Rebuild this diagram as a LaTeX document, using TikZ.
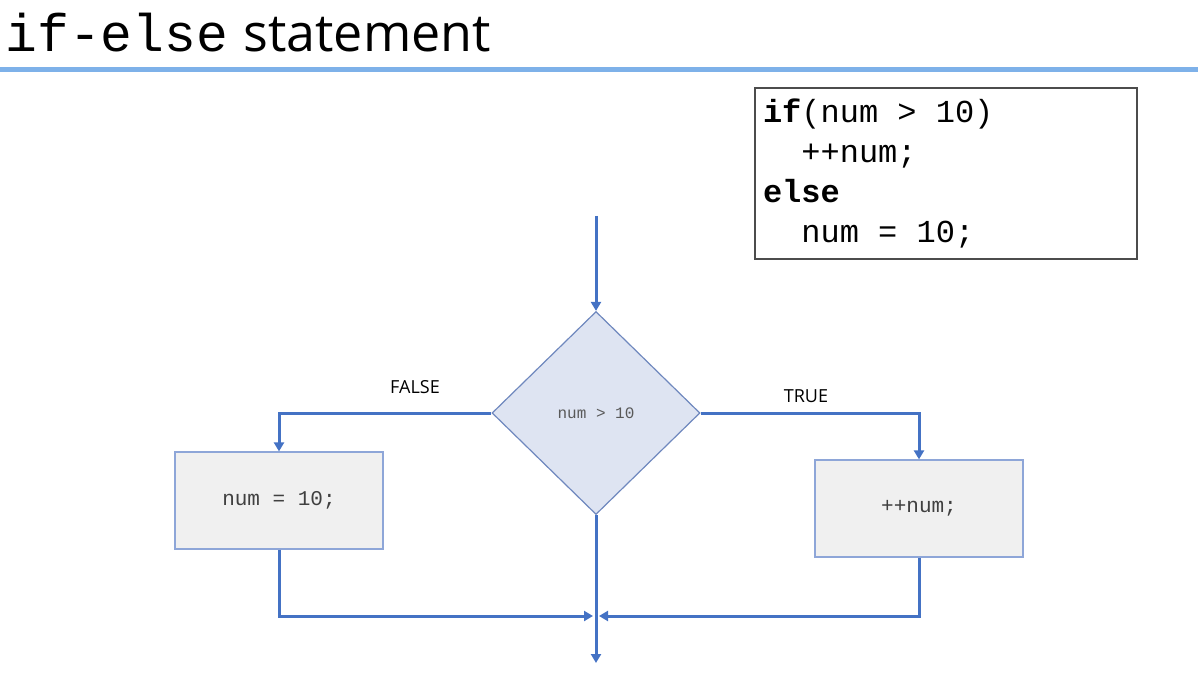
\documentclass[tikz,border=0pt]{standalone}
\usepackage{fontspec}
\setmainfont{Open Sans}
\setmonofont{Liberation Mono}
\usetikzlibrary{shapes.geometric,arrows.meta}
\definecolor{flowblue}{HTML}{4472C4}
\definecolor{rulelight}{HTML}{7EB1E9}
\definecolor{decfill}{HTML}{DEE4F2}
\definecolor{decline}{HTML}{6F88BE}
\definecolor{boxfill}{HTML}{F0F0F0}
\definecolor{boxline}{HTML}{8EA6D8}
\newcommand{\chsp}{\hspace*{0.6em}}
\tikzset{
  flow/.style={draw=flowblue,line width=1.5pt,-{Triangle[width=5pt,length=4.5pt]}},
  stmt/.style={draw=boxline,fill=boxfill,line width=0.6pt,minimum width=104pt,minimum height=48.5pt,
    inner sep=0pt,text=black!75,font=\ttfamily\fontsize{10.5}{12}\selectfont},
  lbl/.style={inner sep=0pt,font=\fontsize{9}{10}\selectfont}
}
\begin{document}
\begin{tikzpicture}[x=0.5pt,y=-0.5pt]
  \useasboundingbox (0,0) rectangle (1198,684);
  \node[anchor=base west,inner sep=0pt,font=\fontsize{26}{30}\selectfont] (title) at (5,52)
    {{\ttfamily\fontsize{26.5}{30}\selectfont if-else}\hspace{1pt} statement};
  \draw[rulelight,line width=2.5pt] (0,70) -- (1198,70);
  \node[draw=black!70,line width=0.8pt,minimum width=191pt,minimum height=85.5pt,inner xsep=4pt,
    text width=183pt,align=left,font=\ttfamily\fontsize{16}{20}\selectfont] (code) at (946,173.5)
    {\textbf{if}(num\chsp>\chsp10)\\ \chsp\chsp++num;\\ \textbf{else}\\ \chsp\chsp num\chsp=\chsp10;};
  \coordinate (top) at (596,216);
  \node[diamond,draw=decline,fill=decfill,line width=0.6pt,minimum width=104pt,minimum height=101.5pt,
    inner sep=0pt,text=black!65,font=\ttfamily\fontsize{8}{10}\selectfont] (dec) at (596,413) {num > 10};
  \node[stmt] (lbox) at (279,500.5) {num = 10;};
  \node[stmt] (rbox) at (919,508.5) {++num;};
  \node[lbl] (false) at (415,387) {FALSE};
  \node[lbl] (true) at (806,396) {TRUE};
  \coordinate (join) at (596,616);
  \coordinate (out) at (596,663);
  \draw[flow] (top) -- (dec.north);
  \draw[flow] (dec.west) -| (lbox.north);
  \draw[flow] (dec.east) -| (rbox.north);
  \draw[flow,shorten >=1.5pt] (lbox.south) |- (join);
  \draw[flow,shorten >=1.5pt] (rbox.south) |- (join);
  \draw[flow] (dec.south) -- (out);
\end{tikzpicture}
\end{document}
